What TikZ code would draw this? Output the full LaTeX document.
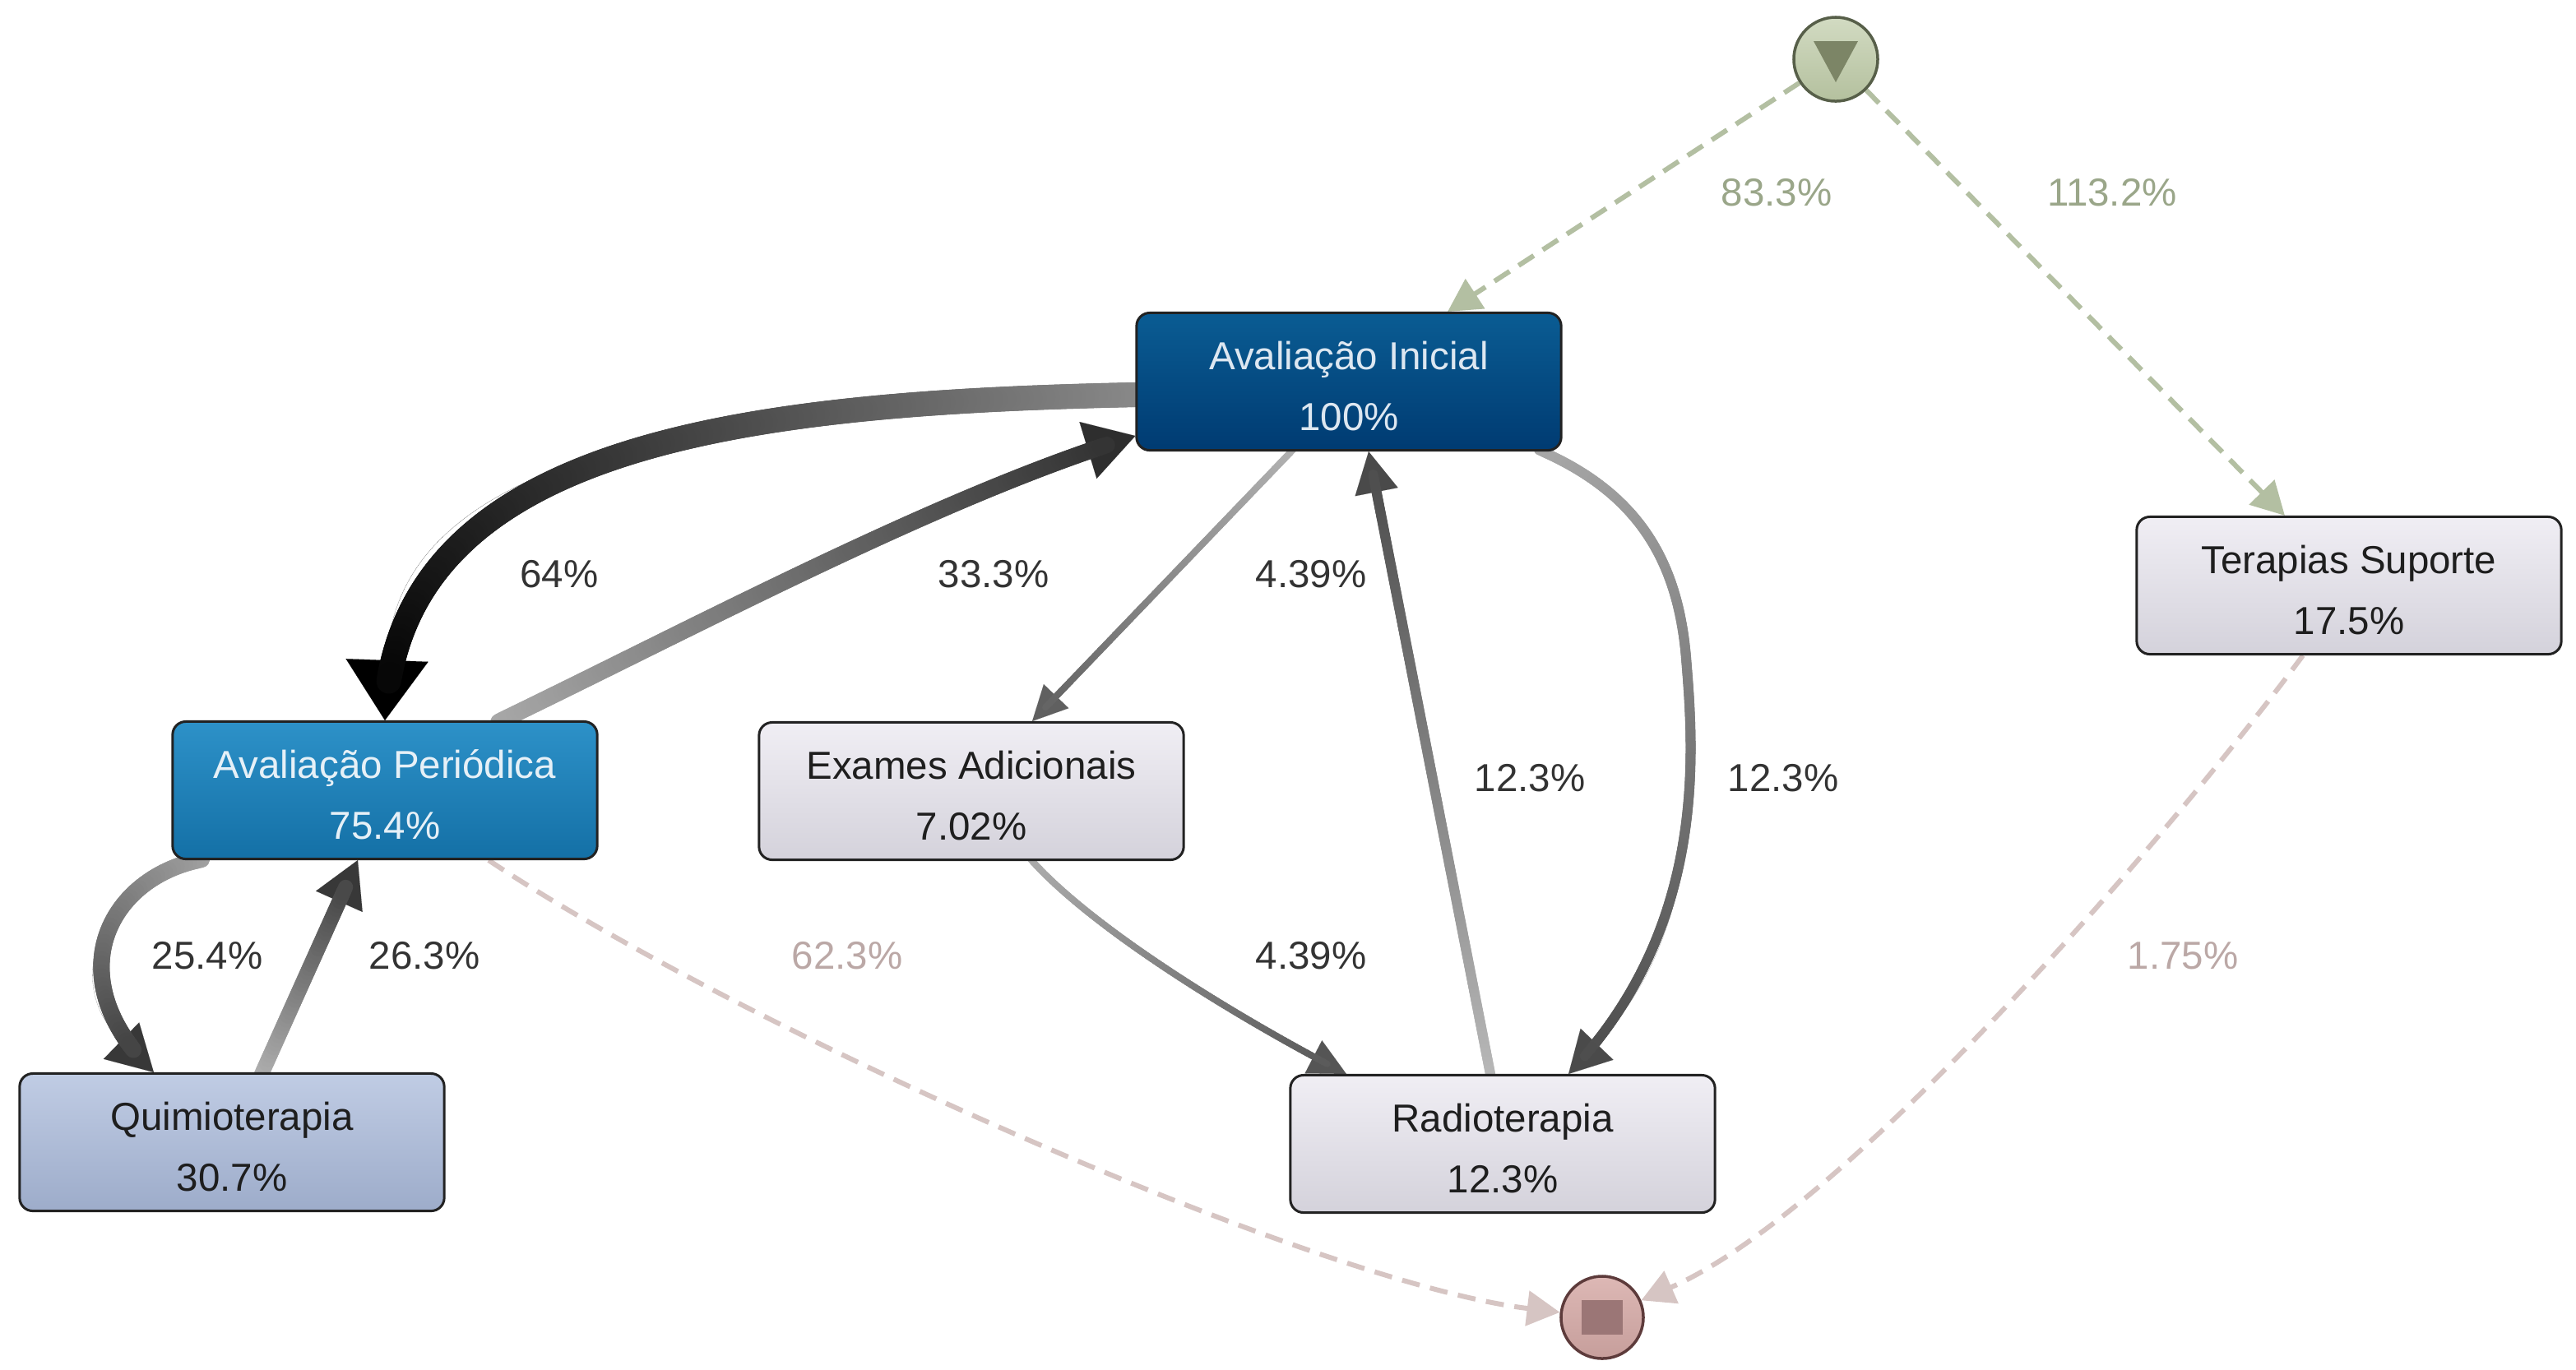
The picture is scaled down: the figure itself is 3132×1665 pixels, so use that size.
\documentclass[tikz,border=0pt]{standalone}
\usepackage{fontspec}
\setmainfont{Liberation Sans}
\usetikzlibrary{arrows.meta,decorations.markings,calc}
\definecolor{aitop}{HTML}{0A5C93}
\definecolor{aibot}{HTML}{003B72}
\definecolor{aitxt}{HTML}{DDE7F1}
\definecolor{aptop}{HTML}{2D91C8}
\definecolor{apbot}{HTML}{1470A6}
\definecolor{aptxt}{HTML}{E6F0F7}
\definecolor{qtop}{HTML}{C0CCE4}
\definecolor{qbot}{HTML}{9DACCA}
\definecolor{gtop}{HTML}{F0EEF4}
\definecolor{gbot}{HTML}{D4D2DB}
\definecolor{boxline}{HTML}{222222}
\definecolor{boxtxt}{HTML}{1E1E1E}
\definecolor{lbl}{HTML}{333333}
\definecolor{stgreen}{HTML}{B3BFA2}
\definecolor{stlbl}{HTML}{9AA689}
\definecolor{sttop}{HTML}{D2DBC2}
\definecolor{stbot}{HTML}{B4C09E}
\definecolor{stborder}{HTML}{575F49}
\definecolor{sttri}{HTML}{7C8566}
\definecolor{endpink}{HTML}{D6C5C3}
\definecolor{endlbl}{HTML}{BBA8A6}
\definecolor{entop}{HTML}{DDB8B5}
\definecolor{enbot}{HTML}{C69E9B}
\definecolor{enborder}{HTML}{5D3B3B}
\definecolor{ensq}{HTML}{9B7676}
\definecolor{ltA}{HTML}{8A8A8A}\definecolor{dkA}{HTML}{000000}
\definecolor{ltB}{HTML}{A8A8A8}\definecolor{dkB}{HTML}{2E2E2E}
\definecolor{ltC}{HTML}{B2B2B2}\definecolor{dkC}{HTML}{606060}
\definecolor{ltD}{HTML}{B8B8B8}\definecolor{dkD}{HTML}{4A4A4A}
\definecolor{ltE}{HTML}{A8A8A8}\definecolor{dkE}{HTML}{4A4A4A}
\definecolor{ltF}{HTML}{ACACAC}\definecolor{dkF}{HTML}{555555}
\definecolor{ltG}{HTML}{A0A0A0}\definecolor{dkG}{HTML}{383838}
\definecolor{ltH}{HTML}{B0B0B0}\definecolor{dkH}{HTML}{383838}
\pgfdeclarelayer{edges}
\pgfsetlayers{edges,main}
\newcommand\nodefont{\fontsize{13.5pt}{20.8pt}\selectfont}
\tikzset{
  box/.style={rectangle, rounded corners=0.16cm, draw=boxline, line width=0.03cm,
    minimum width=5.16cm, minimum height=1.67cm, inner sep=0pt, align=center,
    font=\nodefont, text height=33.6pt, text depth=0pt},
  graybox/.style={box, top color=gtop, bottom color=gbot, text=boxtxt},
  lab/.style={font=\nodefont, text=lbl, inner sep=1pt},
  startflow/.style={draw=stgreen, line width=0.06cm, dash pattern=on 0.22cm off 0.13cm,
    -{Triangle[length=0.4cm,width=0.42cm]}},
  endflow/.style={draw=endpink, line width=0.06cm, dash pattern=on 0.22cm off 0.13cm,
    -{Triangle[length=0.4cm,width=0.42cm]}},
  gradflow/.style n args={4}{draw=#2, line width=0.01pt,
    postaction={decorate, decoration={markings,
      mark=between positions 0 and #4 step 1.5pt with {%
        \pgfmathsetmacro\gpct{min(100,(\pgfkeysvalueof{/pgf/decoration/mark info/distance from start}/\pgfdecoratedpathlength)*100)}%
        \draw[-, line cap=round, line width=#3, draw=#2!\gpct!#1] (-1.2pt,0) -- (1.2pt,0);}}}}
}
\begin{document}
\begin{tikzpicture}[x=0.01cm, y=-0.01cm]
\useasboundingbox (0,0) rectangle (3132,1665);

% nodes
\node[box, top color=aitop, bottom color=aibot, text=aitxt] (AI) at (1640,464) {Avaliação Inicial\\100\%};
\node[box, top color=aptop, bottom color=apbot, text=aptxt] (AP) at (468,961) {Avaliação Periódica\\75.4\%};
\node[graybox] (EX) at (1181,962) {Exames Adicionais\\7.02\%};
\node[graybox] (TS) at (2856,712) {Terapias Suporte\\17.5\%};
\node[box, top color=qtop, bottom color=qbot, text=boxtxt] (QU) at (282,1389) {Quimioterapia\\30.7\%};
\node[graybox] (RA) at (1827,1391) {Radioterapia\\12.3\%};

\node[circle, minimum size=1.02cm, inner sep=0pt, draw=stborder, line width=0.035cm,
  top color=sttop, bottom color=stbot] (start) at (2232,72) {};
\fill[sttri] ($(start)+(-27,-22)$) -- ($(start)+(27,-22)$) -- ($(start)+(0,28)$) -- cycle;
\node[circle, minimum size=1.00cm, inner sep=0pt, draw=enborder, line width=0.035cm,
  top color=entop, bottom color=enbot] (end) at (1948,1602) {};
\fill[ensq] ($(end)+(-25,-21)$) rectangle ($(end)+(25,21)$);

% edges
\begin{pgfonlayer}{edges}
\draw[startflow] (start) -- ([xshift=1.2cm]AI.north);
\draw[startflow] (start) -- ([xshift=-0.78cm]TS.north);
\draw[endflow] ([xshift=-0.56cm]TS.south) .. controls (2650,1000) and (2250,1470) .. (end);
\draw[endflow] ([xshift=1.26cm]AP.south) .. controls (900,1250) and (1600,1560) .. (end);

\draw[gradflow={ltA}{dkA}{0.30cm}{-0.52cm}, -{Triangle[length=0.73cm,width=1.0cm]}]
  ([yshift=-0.16cm]AI.west) .. controls (900,490) and (480,540) .. (AP.north);
\draw[gradflow={ltB}{dkB}{0.20cm}{-0.40cm}, -{Triangle[length=0.6cm,width=0.72cm]}]
  ([xshift=1.42cm]AP.north) .. controls (850,760) and (1150,600) .. ([yshift=-0.66cm]AI.west);
\draw[gradflow={ltC}{dkC}{0.08cm}{-0.25cm}, -{Triangle[length=0.42cm,width=0.42cm]}]
  ([xshift=-0.7cm]AI.south) -- ([xshift=0.74cm]EX.north);
\draw[gradflow={ltD}{dkD}{0.12cm}{-0.31cm}, -{Triangle[length=0.5cm,width=0.53cm]}]
  ([xshift=-0.15cm]RA.north) -- ([xshift=0.24cm]AI.south);
\draw[gradflow={ltE}{dkE}{0.12cm}{-0.31cm}, -{Triangle[length=0.5cm,width=0.55cm]}]
  ([xshift=2.35cm]AI.south) .. controls (1990,600) and (2040,680) .. (2050,800)
  .. controls (2060,920) and (2075,1130) .. ([xshift=0.8cm]RA.north);
\draw[gradflow={ltF}{dkF}{0.08cm}{-0.27cm}, -{Triangle[length=0.45cm,width=0.45cm]}]
  ([xshift=0.74cm]EX.south) .. controls (1330,1130) and (1500,1235) .. ([xshift=-1.9cm]RA.north);
\draw[gradflow={ltG}{dkG}{0.20cm}{-0.38cm}, -{Triangle[length=0.55cm,width=0.62cm]}]
  ([xshift=-2.27cm]AP.south) .. controls (130,1070) and (70,1190) .. ([xshift=-0.95cm]QU.north);
\draw[gradflow={ltH}{dkH}{0.18cm}{-0.37cm}, -{Triangle[length=0.55cm,width=0.62cm]}]
  ([xshift=0.37cm]QU.north) -- ([xshift=-0.33cm]AP.south);
\end{pgfonlayer}

% labels
\node[lab, text=stlbl] (l1) at (2160,234) {83.3\%};
\node[lab, text=stlbl] (l2) at (2568,234) {113.2\%};
\node[lab] (l3) at (680,698) {64\%};
\node[lab] (l4) at (1208,698) {33.3\%};
\node[lab] (l5) at (1594,698) {4.39\%};
\node[lab] (l6) at (1860,946) {12.3\%};
\node[lab] (l7) at (2168,946) {12.3\%};
\node[lab] (l8) at (252,1162) {25.4\%};
\node[lab] (l9) at (516,1162) {26.3\%};
\node[lab, text=endlbl] (l10) at (1030,1162) {62.3\%};
\node[lab] (l11) at (1594,1162) {4.39\%};
\node[lab, text=endlbl] (l12) at (2654,1162) {1.75\%};
\end{tikzpicture}
\end{document}
